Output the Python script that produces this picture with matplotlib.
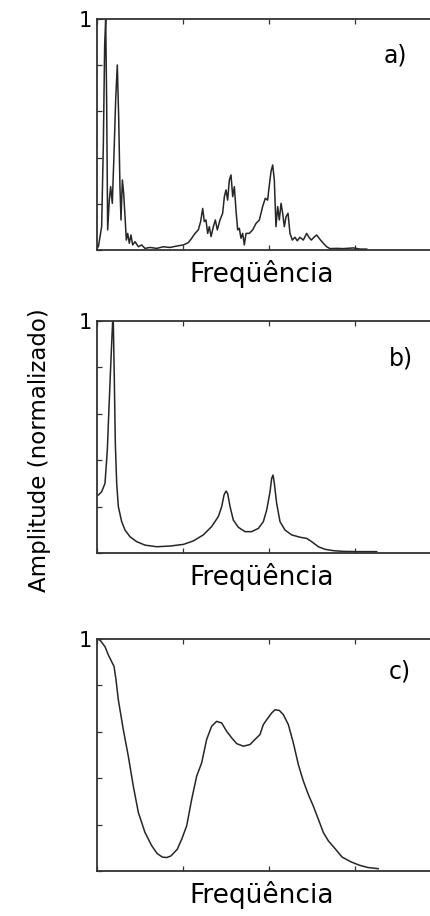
import numpy as np
import matplotlib
matplotlib.use('Agg')
import matplotlib.pyplot as plt

# ======================================================================================================================
#    Spectra (frequency axis in arbitrary units, amplitude normalised to 1)
# ======================================================================================================================

# a) raw spectrum
freq_a = [0.016, 0.054, 0.074, 0.089, 0.101, 0.112, 0.124, 0.143, 0.159, 0.178, 0.198, 0.217, 0.236, 0.252,
          0.267, 0.279, 0.295, 0.310, 0.326, 0.341, 0.357, 0.376, 0.395, 0.415, 0.442, 0.481, 0.519, 0.558,
          0.616, 0.694, 0.771, 0.849, 0.926, 1.004, 1.062, 1.101, 1.140, 1.178, 1.205, 1.229, 1.248, 1.267,
          1.287, 1.306, 1.326, 1.353, 1.376, 1.399, 1.430, 1.461, 1.481, 1.500, 1.519, 1.539, 1.558, 1.578,
          1.597, 1.616, 1.636, 1.655, 1.674, 1.694, 1.713, 1.733, 1.771, 1.810, 1.849, 1.888, 1.926, 1.957,
          1.984, 2.004, 2.023, 2.043, 2.062, 2.081, 2.101, 2.120, 2.140, 2.159, 2.178, 2.198, 2.221, 2.244,
          2.271, 2.302, 2.329, 2.360, 2.399, 2.438, 2.465, 2.492, 2.523, 2.554, 2.593, 2.632, 2.671, 2.709,
          2.787, 2.864, 2.981, 3.058, 3.136]
amp_a = [0.014, 0.101, 0.462, 0.887, 1.000, 0.649, 0.087, 0.216, 0.274, 0.202, 0.418, 0.649, 0.801, 0.577,
         0.274, 0.130, 0.303, 0.245, 0.144, 0.043, 0.072, 0.029, 0.065, 0.022, 0.036, 0.014, 0.022, 0.007,
         0.011, 0.007, 0.014, 0.011, 0.017, 0.022, 0.032, 0.051, 0.072, 0.087, 0.123, 0.180, 0.123, 0.130,
         0.072, 0.101, 0.058, 0.101, 0.130, 0.087, 0.130, 0.159, 0.231, 0.260, 0.216, 0.303, 0.325, 0.231,
         0.274, 0.173, 0.087, 0.094, 0.051, 0.072, 0.022, 0.072, 0.072, 0.087, 0.115, 0.130, 0.188, 0.224,
         0.216, 0.281, 0.339, 0.368, 0.303, 0.101, 0.188, 0.130, 0.202, 0.159, 0.101, 0.144, 0.159, 0.072,
         0.043, 0.055, 0.040, 0.055, 0.043, 0.072, 0.055, 0.043, 0.055, 0.065, 0.046, 0.029, 0.014, 0.006,
         0.007, 0.006, 0.009, 0.004, 0.004]

# b) smoothed spectrum
freq_b = [0.016, 0.054, 0.093, 0.120, 0.140, 0.159, 0.174, 0.182, 0.190, 0.201, 0.213, 0.229, 0.248, 0.287,
          0.326, 0.384, 0.461, 0.558, 0.694, 0.849, 1.004, 1.120, 1.236, 1.333, 1.411, 1.450, 1.477, 1.500,
          1.519, 1.547, 1.585, 1.643, 1.721, 1.798, 1.876, 1.934, 1.973, 2.012, 2.031, 2.047, 2.062, 2.089,
          2.128, 2.186, 2.264, 2.360, 2.438, 2.496, 2.574, 2.651, 2.748, 2.864, 3.019, 3.252]
amp_b = [0.250, 0.264, 0.300, 0.444, 0.631, 0.803, 0.932, 1.000, 0.990, 0.760, 0.473, 0.300, 0.200, 0.135,
         0.099, 0.070, 0.049, 0.034, 0.027, 0.030, 0.037, 0.052, 0.078, 0.114, 0.157, 0.200, 0.250, 0.267,
         0.257, 0.200, 0.142, 0.111, 0.092, 0.092, 0.106, 0.135, 0.185, 0.264, 0.322, 0.336, 0.300, 0.214,
         0.135, 0.099, 0.078, 0.068, 0.063, 0.049, 0.027, 0.016, 0.010, 0.007, 0.006, 0.006]

# c) low-order smooth spectrum
freq_c = [0.000, 0.035, 0.093, 0.132, 0.171, 0.198, 0.221, 0.248, 0.306, 0.364, 0.422, 0.481, 0.558, 0.636,
          0.700, 0.760, 0.810, 0.860, 0.934, 0.985, 1.043, 1.101, 1.159, 1.217, 1.275, 1.333, 1.391, 1.450,
          1.508, 1.566, 1.624, 1.702, 1.779, 1.837, 1.895, 1.934, 1.973, 2.031, 2.070, 2.120, 2.167, 2.225,
          2.283, 2.341, 2.399, 2.457, 2.515, 2.574, 2.632, 2.690, 2.767, 2.850, 2.950, 3.050, 3.150, 3.270]
amp_c = [1.000, 0.995, 0.967, 0.931, 0.902, 0.882, 0.824, 0.738, 0.609, 0.495, 0.366, 0.252, 0.166, 0.109,
         0.075, 0.060, 0.058, 0.065, 0.094, 0.137, 0.195, 0.309, 0.409, 0.466, 0.567, 0.624, 0.645, 0.638,
         0.602, 0.574, 0.549, 0.538, 0.545, 0.567, 0.588, 0.631, 0.652, 0.681, 0.695, 0.692, 0.674, 0.631,
         0.552, 0.459, 0.388, 0.330, 0.280, 0.223, 0.166, 0.130, 0.097, 0.060, 0.040, 0.025, 0.015, 0.010]

panel_tags = ['a)', 'b)', 'c)']
x_title = 'Freqüência'
y_title = 'Amplitude (normalizado)'
y_ticks = [0.0, 0.2, 0.4, 0.6, 0.8, 1.0]
y_tick_labels = ['', '', '', '', '', '1']
x_ticks = [0, 1, 2, 3, 4]


def main():
    plt.rcParams['font.family'] = ['DejaVu Sans']

    W, H = 430, 916
    fig = plt.figure(figsize=(W / 100, H / 100), dpi=100)

    # panel frames in pixels: (top, bottom); left edge shared, right edge runs off the figure
    left_px, right_px = 97, 441
    frames = [(19, 250), (321, 553), (639, 871)]
    tag_pos = [(395, 55), (401, 358), (400, 672)]
    data = [(freq_a, amp_a), (freq_b, amp_b), (freq_c, amp_c)]

    for i in range(3):
        top, bot = frames[i]
        ax = fig.add_axes([left_px / W, 1 - bot / H, (right_px - left_px) / W, (bot - top) / H])
        f, a = data[i]
        ax.plot(f, a, color='#262626', lw=1.1)

        ax.set_xlim(0, 4)
        ax.set_ylim(0, 1)
        ax.set_xticks(x_ticks)
        ax.set_xticklabels([])
        ax.set_yticks(y_ticks)
        ax.set_yticklabels(y_tick_labels, fontsize=15)
        ax.tick_params(direction='in', length=3.5, width=0.9, color='#333333', top=True, bottom=True,
                       left=True, right=False, pad=4)
        for s in ax.spines.values():
            s.set_color('#333333')
            s.set_linewidth(1.3)

        # x-axis title under each panel
        fig.text(262 / W, 1 - (bot + 32) / H, x_title, fontsize=19, ha='center', va='baseline')
        # panel letter
        fig.text(tag_pos[i][0] / W, 1 - tag_pos[i][1] / H, panel_tags[i], fontsize=17, ha='center',
                 va='center')

    fig.text(40 / W, 1 - 450 / H, y_title, fontsize=16.5, rotation=90, ha='center', va='center')

    fig.savefig('out.png', dpi=100, facecolor='white')


if __name__ == "__main__":
    main()
